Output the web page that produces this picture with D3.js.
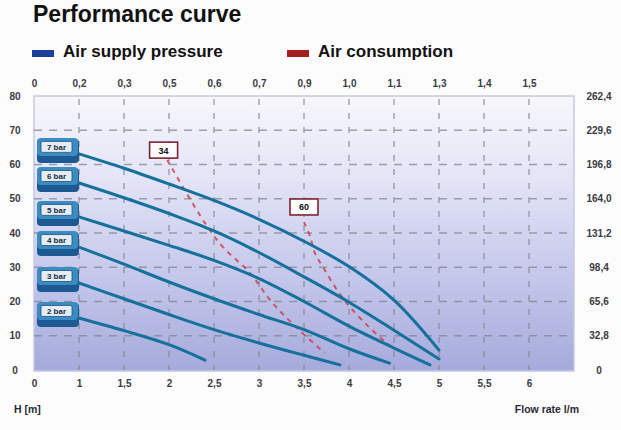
<!DOCTYPE html>
<html><head><meta charset="utf-8">
<script src="https://cdn.jsdelivr.net/npm/d3@7"></script>
<style>
html,body{margin:0;padding:0;background:#fcfcfd;}
svg{display:block;font-family:"Liberation Sans",Arial,sans-serif;}
</style></head>
<body>
<script>
// ---- data ----
const flowTicks = [0, 1, 1.5, 2, 2.5, 3, 3.5, 4, 4.5, 5, 5.5, 6];
const topTicks = [0, 0.2, 0.3, 0.5, 0.6, 0.7, 0.9, 1.0, 1.1, 1.3, 1.4, 1.5];
const heightTicks = [0, 10, 20, 30, 40, 50, 60, 70, 80];
const rightTicks = [0, 32.8, 65.6, 98.4, 131.2, 164.0, 196.8, 229.6, 262.4];
const pressureLabels = ["7 bar", "6 bar", "5 bar", "4 bar", "3 bar", "2 bar"];
const bar7 = [[1.0,63.1],[1.5,58.9],[2,54.3],[2.5,49.5],[3,44.0],[3.5,37.6],[4,30.2],[4.5,20.4],[5,5.8]];
const bar6 = [[1.0,54.6],[1.5,50.3],[2,45.7],[2.5,40.6],[3,34.3],[3.5,27.2],[4,19.8],[4.5,11.6],[5,3.2]];
const bar5 = [[1.0,44.7],[1.5,40.6],[2,36.4],[2.5,32.0],[3,26.7],[3.5,20.0],[4,12.8],[4.5,6.4],[4.9,1.5]];
const bar4 = [[1.0,35.9],[1.5,30.9],[2,25.7],[2.5,20.8],[3,16.2],[3.5,11.8],[4,6.2],[4.45,2.0]];
const bar3 = [[1.0,25.4],[1.5,20.8],[2,16.2],[2.5,11.8],[3,7.9],[3.5,4.3],[3.9,1.5]];
const bar2 = [[1.0,15.2],[1.5,11.5],[2,7.4],[2.4,2.9]];
const cons34 = [[1.98,61.3],[2.4,42.9],[2.6,35.9],[2.9,28.3],[3.14,19.9],[3.42,12.3],[3.73,5.0]];
const cons60 = [[3.5,43.2],[3.57,38.8],[3.62,34.2],[3.71,30.1],[3.93,21.0],[4.2,13.1],[4.48,6.4]];
const consLabels = ["34", "60"];
const consLabelPos = [[1.94,64.2],[3.5,47.6]];

const pressureSeries = [bar7, bar6, bar5, bar4, bar3, bar2];
const consSeries = [cons34, cons60];

// ---- layout ----
const W = 621, H = 430;
const svg = d3.select("body").append("svg").attr("width", W).attr("height", H);

const x = d3.scaleLinear().domain([0, 1, 6.5]).range([34, 79, 574]);
const y = d3.scaleLinear().domain([0, 80]).range([370, 96]);
const yR = d3.scaleLinear().domain([0, 262.4]).range([370, 96]);
const xTop = d3.scaleLinear().domain(topTicks).range(flowTicks.map(x));

const comma = v => String(v).replace(".", ",");

const defs = svg.append("defs");
const grad = defs.append("linearGradient").attr("id","bg").attr("x1",0).attr("y1",0).attr("x2",0).attr("y2",1);
grad.append("stop").attr("offset","0%").attr("stop-color","#f7f7fc");
grad.append("stop").attr("offset","30%").attr("stop-color","#e3e4f6");
grad.append("stop").attr("offset","65%").attr("stop-color","#c5c8eb");
grad.append("stop").attr("offset","100%").attr("stop-color","#a6aadc");

// title & legend
svg.append("text").attr("x", 33).attr("y", 22).attr("font-size", 23).attr("font-weight", "bold")
  .attr("fill", "#111").text("Performance curve");
const legend = [["Air supply pressure", "#1b3f9a", 32], ["Air consumption", "#a3201e", 287]];
legend.forEach(([t, c, lx]) => {
  svg.append("rect").attr("x", lx).attr("y", 50).attr("width", 22).attr("height", 7).attr("fill", c);
  svg.append("text").attr("x", lx + 31).attr("y", 57).attr("font-size", 17).attr("font-weight", "bold")
    .attr("fill", "#111").text(t);
});

// plot background
svg.append("rect").attr("x", x(0)).attr("y", y(80)).attr("width", x(6.5) - x(0)).attr("height", y(0) - y(80) + 1)
  .attr("fill", "url(#bg)").attr("stroke", "#c5c8e6").attr("stroke-width", 1.5);

// grid
const grid = svg.append("g").attr("stroke", "#84848f").attr("stroke-width", 1.4).attr("stroke-dasharray", "8,7").attr("opacity", 0.75);
grid.selectAll("line.h").data(heightTicks.filter(v => v > 0 && v < 80)).join("line")
  .attr("x1", x(0)).attr("x2", x(6.5)).attr("y1", d => y(d)).attr("y2", d => y(d));
grid.selectAll("line.v").data(flowTicks.filter(v => v > 0)).join("line")
  .attr("y1", y(80) + 3).attr("y2", y(0)).attr("x1", d => x(d)).attr("x2", d => x(d))
  .attr("stroke-dasharray", "6,8");

// axes
function styleAxis(g) {
  g.select(".domain").remove();
  g.selectAll(".tick line").remove();
  g.selectAll(".tick text").attr("font-size", 10).attr("font-weight", "bold").attr("fill", "#3a3a44")
    .attr("font-family", "'Liberation Sans',Arial,sans-serif");
}
svg.append("g").attr("transform", `translate(0,${y(0)})`)
  .call(d3.axisBottom(x).tickValues(flowTicks).tickFormat(v => comma(v)).tickSize(0).tickPadding(10))
  .call(styleAxis);
svg.append("g").attr("transform", `translate(0,${y(80)})`)
  .call(d3.axisTop(xTop).tickValues(topTicks).tickFormat(v => v === 0 ? "0" : comma(v.toFixed(1))).tickSize(0).tickPadding(9))
  .call(styleAxis);
svg.append("g").attr("transform", `translate(22,0)`)
  .call(d3.axisLeft(y).tickValues(heightTicks).tickSize(0).tickPadding(0))
  .call(styleAxis)
  .selectAll(".tick text").attr("text-anchor", "middle").attr("x", -7);
svg.append("g").attr("transform", `translate(599,0)`)
  .call(d3.axisRight(yR).tickValues(rightTicks).tickFormat(v => v === 0 ? "0" : comma(v.toFixed(1))).tickSize(0).tickPadding(0))
  .call(styleAxis)
  .selectAll(".tick text").attr("text-anchor", "middle").attr("x", 0);

svg.append("text").attr("x", 14).attr("y", 413).attr("font-size", 10.5).attr("font-weight", "bold").attr("fill", "#2a2a33").text("H [m]");
svg.append("text").attr("x", 579).attr("y", 413).attr("text-anchor", "end").attr("font-size", 10.5).attr("font-weight", "bold").attr("fill", "#2a2a33").text("Flow rate l/m");

// curves
const line = d3.line().x(d => x(d[0])).y(d => y(d[1])).curve(d3.curveCatmullRom.alpha(0.5));

svg.append("g").selectAll("path").data(consSeries).join("path")
  .attr("d", line).attr("fill", "none").attr("stroke", "#c9434f").attr("stroke-width", 2)
  .attr("stroke-dasharray", "5,5").attr("opacity", 0.85);

svg.append("g").selectAll("path").data(pressureSeries).join("path")
  .attr("d", line).attr("fill", "none").attr("stroke", "#15709c").attr("stroke-width", 3)
  .attr("stroke-linecap", "round");

// consumption labels
const cl = svg.append("g").selectAll("g").data(consLabelPos).join("g")
  .attr("transform", d => `translate(${x(d[0])},${y(d[1])})`);
cl.append("rect").attr("x", -14).attr("y", -8).attr("width", 28).attr("height", 16)
  .attr("fill", "#fbfbfd").attr("stroke", "#7d2330").attr("stroke-width", 1.6);
cl.append("text").attr("text-anchor", "middle").attr("y", 3.5).attr("font-size", 9).attr("font-weight", "bold")
  .attr("fill", "#111").text((d, i) => consLabels[i]);

// pressure labels (3D buttons at curve starts)
const pl = svg.append("g").selectAll("g").data(pressureSeries).join("g")
  .attr("transform", d => `translate(${x(d[0][0])},${y(d[0][1])})`);
pl.append("rect").attr("x", -42).attr("y", -15).attr("width", 42).attr("height", 24).attr("rx", 4)
  .attr("fill", "#1d5a93");
pl.append("rect").attr("x", -42).attr("y", -16).attr("width", 41).attr("height", 18).attr("rx", 4)
  .attr("fill", "#3b8cc0");
pl.append("rect").attr("x", -38).attr("y", -12.5).attr("width", 31).attr("height", 11).attr("rx", 1.5)
  .attr("fill", "#e4ecf4").attr("stroke", "#1e4f80").attr("stroke-width", 0.8);
pl.append("text").attr("x", -22.5).attr("y", -4).attr("text-anchor", "middle").attr("font-size", 8)
  .attr("font-weight", "bold").attr("fill", "#1a2a44").text((d, i) => pressureLabels[i]);
</script>
</body></html>
